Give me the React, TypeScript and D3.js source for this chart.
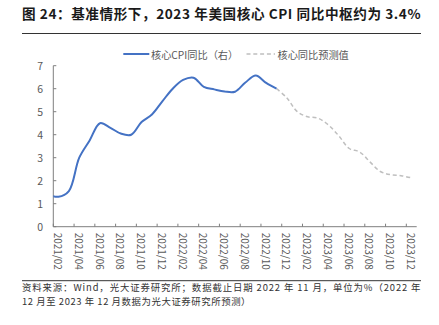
import React from "react";
import * as d3 from "d3";

const months: string[] = [
  "2021/01", "2021/02", "2021/03", "2021/04", "2021/05", "2021/06", "2021/07", "2021/08", "2021/09", "2021/10", "2021/11", "2021/12",
  "2022/01", "2022/02", "2022/03", "2022/04", "2022/05", "2022/06", "2022/07", "2022/08", "2022/09", "2022/10", "2022/11", "2022/12",
  "2023/01", "2023/02", "2023/03", "2023/04", "2023/05", "2023/06", "2023/07", "2023/08", "2023/09", "2023/10", "2023/11", "2023/12",
];

// 核心CPI同比 2021/01 – 2022/11
const coreCpi: number[] = [1.4, 1.3, 1.55, 3.0, 3.75, 4.5, 4.3, 4.05, 4.0, 4.55, 4.88, 5.45, 6.0, 6.38, 6.48, 6.08, 5.97, 5.88, 5.87, 6.27, 6.57, 6.25, 6.0];
// 核心同比预测值 2022/11 – 2023/12
const forecast: number[] = [6.0, 5.6, 5.0, 4.78, 4.72, 4.42, 3.95, 3.4, 3.25, 2.82, 2.4, 2.26, 2.22, 2.12];
const forecastStart = 22;

const yTicks: number[] = [0, 1, 2, 3, 4, 5, 6, 7];

const title = "图 24：基准情形下，2023 年美国核心 CPI 同比中枢约为 3.4%";
const legend1 = "核心CPI同比（右）";
const legend2 = "核心同比预测值";
const note1 = "资料来源：Wind，光大证券研究所；数据截止日期 2022 年 11 月，单位为%（2022 年";
const note2 = "12 月至 2023 年 12 月数据为光大证券研究所预测）";

const FONT = "'Noto Sans CJK SC', 'Noto Sans', sans-serif";

export default function App() {
  const left = 53.3, right = 416.7, top = 65.7, bottom = 226.7;
  const x = d3.scaleLinear().domain([0.5, 35.5]).range([left, right]);
  const y = d3.scaleLinear().domain([0, 7]).range([bottom, top]);

  const line = d3
    .line<number>()
    .x((_, i) => x(i))
    .y((d) => y(d))
    .curve(d3.curveCatmullRom.alpha(0.5));
  const fLine = d3
    .line<number>()
    .x((_, i) => x(i + forecastStart))
    .y((d) => y(d))
    .curve(d3.curveCatmullRom.alpha(0.5));

  const labelIdx = d3.range(1, 36, 2);
  const axisColor = "#7f7f7f";
  const textColor = "#595959";

  return (
    <svg width={439} height={325} style={{ position: "absolute", left: 0, top: 0 }} fontFamily={FONT}>
      <rect width={439} height={325} fill="#fff" />
      <text x={22} y={19} fontSize={13.6} fontWeight="bold" fill="#1a1a1a" textLength={398.5} lengthAdjust="spacing">{title}</text>
      <line x1={22} x2={421} y1={33.5} y2={33.5} stroke="#333" strokeWidth={1} />

      {/* legend */}
      <line x1={123.3} x2={149.3} y1={54} y2={54} stroke="#4472C4" strokeWidth={2} />
      <text x={151} y={54} dominantBaseline="central" fontSize={10.2} fill={textColor}>{legend1}</text>
      <line x1={246.5} x2={275} y1={54} y2={54} stroke="#BFBFBF" strokeWidth={1.5} strokeDasharray="4 2.8" />
      <text x={277.5} y={54} dominantBaseline="central" fontSize={10.2} fill={textColor}>{legend2}</text>

      {/* y axis */}
      <line x1={left} x2={left} y1={top} y2={bottom} stroke={axisColor} strokeWidth={1} />
      {yTicks.map((t) => (
        <g key={t}>
          <line x1={left} x2={left + 3} y1={y(t)} y2={y(t)} stroke={axisColor} />
          <text x={43} y={y(t)} textAnchor="end" dominantBaseline="central" fontSize={10.5} fill={textColor}>{t}</text>
        </g>
      ))}

      {/* x axis */}
      <line x1={left} x2={right} y1={bottom} y2={bottom} stroke={axisColor} strokeWidth={1} />
      {labelIdx.map((i) => (
        <g key={i}>
          <line x1={x(i - 0.5)} x2={x(i - 0.5)} y1={bottom} y2={bottom - 3} stroke={axisColor} />
          <text
            transform={`translate(${x(i)},${bottom + 6}) rotate(90)`}
            textAnchor="start"
            dominantBaseline="central"
            fontSize={10}
            fill={textColor}
          >
            {months[i]}
          </text>
        </g>
      ))}

      <defs>
        <clipPath id="plotClip">
          <rect x={left} y={0} width={right - left} height={bottom + 5} />
        </clipPath>
      </defs>
      <g clipPath="url(#plotClip)">
        <path d={fLine(forecast) || ""} fill="none" stroke="#BFBFBF" strokeWidth={1.5} strokeDasharray="4 2.8" />
        <path d={line(coreCpi) || ""} fill="none" stroke="#4472C4" strokeWidth={2} />
      </g>

      {/* footnote */}
      <line x1={22} x2={421} y1={280.7} y2={280.7} stroke="#333" strokeWidth={1} />
      <text x={22} y={291} fontSize={9.4} fill="#333" textLength={398.5} lengthAdjust="spacing">{note1}</text>
      <text x={22} y={304.8} fontSize={9.4} fill="#333" textLength={228.5} lengthAdjust="spacing">{note2}</text>
    </svg>
  );
}
